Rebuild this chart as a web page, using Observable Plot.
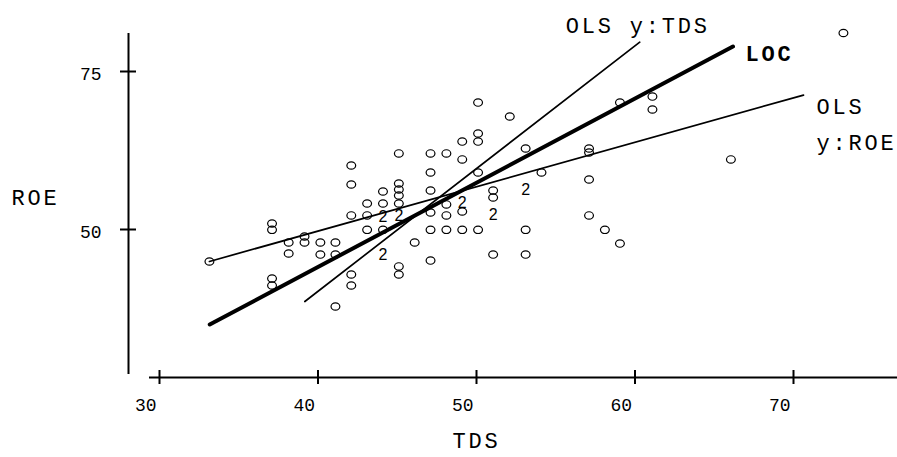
<!DOCTYPE html>
<html><head><meta charset="utf-8">
<script src="https://cdn.jsdelivr.net/npm/d3@7"></script>
<script src="https://cdn.jsdelivr.net/npm/@observablehq/plot@0.6"></script>
<style>
html,body{margin:0;padding:0;background:#fff;}
g[font-size="22"]{letter-spacing:2.8px;}
</style></head><body><div id="chart"></div>
<script>
// Observations (TDS, ROE); count = number of coincident firms (2 drawn as "2")
const tds = [
  33.15,
  37.1, 37.1, 37.1, 37.1,
  38.15, 38.15,
  39.15, 39.15,
  40.15, 40.15,
  41.1, 41.1, 41.1,
  42.1, 42.1, 42.1, 42.1, 42.1,
  43.1, 43.1, 43.1,
  44.1, 44.1, 44.1, 44.1, 44.1,
  45.1, 45.1, 45.1, 45.1, 45.1, 45.1, 45.1, 45.1,
  46.1,
  47.1, 47.1, 47.1, 47.1, 47.1, 47.1,
  48.1, 48.1, 48.1, 48.1,
  49.1, 49.1, 49.1, 49.1, 49.1,
  50.1, 50.1, 50.1, 50.1, 50.1,
  51.05, 51.05, 51.05, 51.05,
  52.1,
  53.1, 53.1, 53.1, 53.1,
  54.1,
  57.1, 57.1, 57.1, 57.1,
  58.1,
  59.05, 59.05,
  61.1, 61.1,
  66.05,
  73.15
];
const roe = [
  44.94,
  50.95, 49.95, 42.25, 41.14,
  47.94, 46.2,
  48.89, 47.94,
  47.94, 46.04,
  47.94, 46.04, 37.82,
  60.13, 57.12, 52.22, 42.88, 41.14,
  54.11, 52.22, 49.95,
  56.01, 54.11, 52.06, 49.95, 46.04,
  62.03, 57.28, 56.33, 55.38, 54.11, 52.22, 44.15, 42.88,
  47.94,
  62.03, 59.02, 56.17, 52.69, 49.95, 45.09,
  62.03, 53.96, 52.22, 49.95,
  63.92, 61.08, 54.27, 52.85, 49.95,
  70.09, 65.19, 63.92, 59.02, 49.95,
  56.17, 55.06, 52.37, 46.04,
  67.88,
  62.82, 56.33, 49.95, 46.04,
  59.02,
  62.82, 62.18, 57.91, 52.22,
  49.95,
  70.09, 47.78,
  71.04, 68.99,
  61.08,
  81.09
];
const count = [
  1,
  1,1,1,1,
  1,1,
  1,1,
  1,1,
  1,1,1,
  1,1,1,1,1,
  1,1,1,
  1,1,2,1,2,
  1,1,1,1,1,2,1,1,
  1,
  1,1,1,1,1,1,
  1,1,1,1,
  1,1,2,1,1,
  1,1,1,1,1,
  1,1,2,1,
  1,
  1,2,1,1,
  1,
  1,1,1,1,
  1,
  1,1,
  1,1,
  1,
  1
];

// Fitted lines (endpoints, TDS / ROE)
const olsRoeTds = [33.15, 70.63];
const olsRoeRoe = [44.94, 71.27];
const olsTdsTds = [39.17, 60.3];
const olsTdsRoe = [38.61, 79.64];
const locTds = [33.17, 66.18];
const locRoe = [34.97, 78.96];
const lineNames = ["OLS y:ROE", "OLS y:TDS", "LOC"];

const xTicks = [30, 40, 50, 60, 70];
const yTicks = [50, 75];
const xTitle = "TDS";
const yTitle = "ROE";

const points = tds.map((x, i) => ({x, y: roe[i], n: count[i]}));
const olsRoe = d3.zip(olsRoeTds, olsRoeRoe);
const olsTds = d3.zip(olsTdsTds, olsTdsRoe);
const loc = d3.zip(locTds, locRoe);

const W = 897, H = 457;
const mL = 128, mR = 0, mT = 33, mB = 80;
const pxX = 15.85, pxY = 6.32;       // pixels per unit
const x30 = 159, y50 = 229;          // pixel anchors
const xDomain = [30 - (x30 - mL) / pxX, 30 + (W - mR - x30) / pxX];
const yDomain = [50 - (H - mB - y50) / pxY, 50 + (y50 - mT) / pxY];

const ellipse = {draw(ctx) {
  const rx = 4.4, ry = 3.7, k = 0.5523;
  ctx.moveTo(rx, 0);
  ctx.bezierCurveTo(rx, ry * k, rx * k, ry, 0, ry);
  ctx.bezierCurveTo(-rx * k, ry, -rx, ry * k, -rx, 0);
  ctx.bezierCurveTo(-rx, -ry * k, -rx * k, -ry, 0, -ry);
  ctx.bezierCurveTo(rx * k, -ry, rx, -ry * k, rx, 0);
  ctx.closePath();
}};

const chart = Plot.plot({
  width: W, height: H,
  marginLeft: mL, marginRight: mR, marginTop: mT, marginBottom: mB,
  style: {fontFamily: "'Courier New', 'Nimbus Mono PS', FreeMono, 'Liberation Mono', monospace", background: "#fff", color: "#000"},
  x: {domain: xDomain, axis: null},
  y: {domain: yDomain, axis: null},
  marks: [
    Plot.ruleX([xDomain[0]], {stroke: "#000", strokeWidth: 2, insetBottom: 3}),
    Plot.ruleY([yDomain[0]], {stroke: "#000", strokeWidth: 2, insetLeft: 21}),
    Plot.tickX(xTicks, {x: d => d, stroke: "#000", strokeWidth: 2, insetTop: (H - mB - 7) - mT, insetBottom: -7}),
    Plot.tickY(yTicks, {y: d => d, stroke: "#000", strokeWidth: 2, insetLeft: -8, insetRight: (W - mR - mL) - 8}),
    Plot.text(xTicks, {x: d => d, text: d => String(d), frameAnchor: "bottom", dy: 33, dx: -3, textAnchor: "end", fontSize: 18}),
    Plot.text(yTicks, {y: d => d, text: d => String(d), frameAnchor: "left", dx: -27, dy: 3, textAnchor: "end", fontSize: 18}),
    Plot.text([xTitle], {x: () => xTicks[2], text: d => d, frameAnchor: "bottom", dy: 70, textAnchor: "middle", fontSize: 22}),
    Plot.text([yTitle], {text: d => d, frameAnchor: "left", dx: -93, dy: -8, textAnchor: "middle", fontSize: 22}),
    Plot.line(olsRoe, {stroke: "#000", strokeWidth: 1.7}),
    Plot.line(olsTds, {stroke: "#000", strokeWidth: 1.7}),
    Plot.line(loc, {stroke: "#000", strokeWidth: 4, strokeLinecap: "round"}),
    Plot.dot(points.filter(d => d.n === 1), {x: "x", y: "y", r: 4, symbol: ellipse, fill: "none", stroke: "#000", strokeWidth: 1.2}),
    Plot.text(points.filter(d => d.n > 1), {x: "x", y: "y", text: d => String(d.n), fontFamily: "'Liberation Sans', Arial, sans-serif", fontSize: 16}),
    Plot.text([olsRoe[1]], {x: d => d[0], y: d => d[1], text: () => lineNames[0].replace(" ", "\n"), dx: 13, dy: 25, textAnchor: "start", lineHeight: 1.64, fontSize: 22}),
    Plot.text([olsTds[1]], {x: d => d[0], y: d => d[1], text: () => lineNames[1], dx: -2, dy: -16, textAnchor: "middle", fontSize: 22}),
    Plot.text([loc[1]], {x: d => d[0], y: d => d[1], text: () => lineNames[2], dx: 12.5, dy: 7.5, textAnchor: "start", fontWeight: "bold", fontSize: 22})
  ]
});
document.getElementById("chart").appendChild(chart);
</script>
</body></html>
